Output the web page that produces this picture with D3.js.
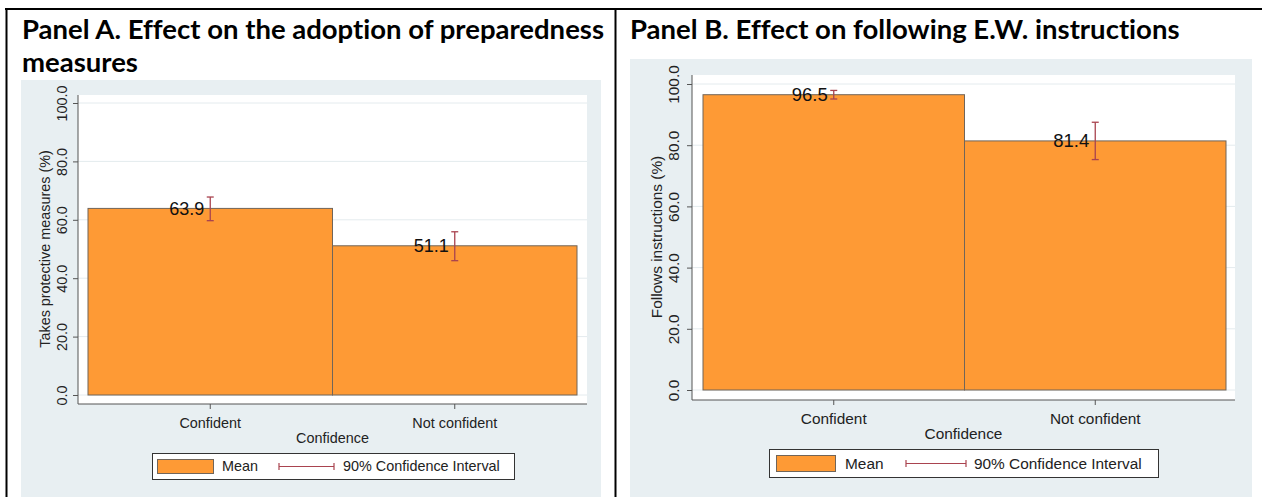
<!DOCTYPE html>
<html>
<head>
<meta charset="utf-8">
<script src="https://cdn.jsdelivr.net/npm/d3@7"></script>
<style>
  html, body { margin: 0; padding: 0; background: #ffffff; }
  svg { display: block; }
  .panel-title { font-variant-ligatures: none; font-feature-settings: "liga" 0, "clig" 0; }
</style>
</head>
<body>
<svg id="chart" width="1262" height="497"></svg>
<script>
// ---- data ----
const categories = ["Confident", "Not confident"];
const yTicks = [0, 20, 40, 60, 80, 100];

// Panel A: takes protective measures (%)
const meansA = [63.9, 51.1];
const ciLowA = [59.7, 46.0];
const ciHighA = [67.8, 55.9];

// Panel B: follows instructions (%)
const meansB = [96.5, 81.4];
const ciLowB = [95.1, 75.3];
const ciHighB = [97.9, 87.5];

const titleA = ["Panel A. Effect on the adoption of preparedness", "measures"];
const titleB = ["Panel B. Effect on following E.W. instructions"];
const yTitleA = "Takes protective measures (%)";
const yTitleB = "Follows instructions (%)";
const xTitle = "Confidence";
const legendMean = "Mean";
const legendCI = "90% Confidence Interval";

// ---- styles ----
const BG = "#e8eff2";
const GRID = "#e4ebee";
const BAR = "#fe9a35";
const BAR_STROKE = "#716559";
const CI = "#a9434f";
const AXIS = "#555555";
const TEXT = "#222222";
const SANS = "'Liberation Sans', Arial, sans-serif";
const TITLE_FONT = "Lato, 'Open Sans', sans-serif";

const svg = d3.select("#chart");

// table frame around the two panels
const frame = svg.append("g").attr("stroke", "#000").attr("stroke-width", 2);
frame.append("line").attr("x1", 5).attr("x2", 1262).attr("y1", 9).attr("y2", 9);
frame.append("line").attr("x1", 6.5).attr("x2", 6.5).attr("y1", 8).attr("y2", 497);
frame.append("line").attr("x1", 615.5).attr("x2", 615.5).attr("y1", 8).attr("y2", 497);

function drawPanel(cfg) {
  const g = svg.append("g");

  // panel heading
  cfg.title.forEach((t, i) => {
    g.append("text")
      .attr("class", "panel-title")
      .attr("x", cfg.titleX)
      .attr("y", cfg.titleY + i * 33)
      .attr("font-family", TITLE_FONT)
      .attr("font-weight", 700)
      .attr("font-size", cfg.titleSize)
      .attr("fill", "#000")
      .text(t);
  });

  // graph background
  g.append("rect")
    .attr("x", cfg.bg.x).attr("y", cfg.bg.y)
    .attr("width", cfg.bg.w).attr("height", cfg.bg.h)
    .attr("fill", BG);

  // plot region
  g.append("rect")
    .attr("x", cfg.plot.left).attr("y", cfg.plot.top)
    .attr("width", cfg.plot.right - cfg.plot.left)
    .attr("height", cfg.plot.axisY - cfg.plot.top)
    .attr("fill", "#fff");

  const y = d3.scaleLinear().domain([0, 100]).range(cfg.yRange);
  const x = d3.scaleBand().domain(categories).range(cfg.xRange).padding(0);

  // horizontal grid
  g.append("g").selectAll("line")
    .data(yTicks)
    .join("line")
    .attr("x1", cfg.plot.left).attr("x2", cfg.plot.right)
    .attr("y1", d => y(d)).attr("y2", d => y(d))
    .attr("stroke", GRID).attr("stroke-width", 1);

  // bars
  g.append("g").selectAll("rect")
    .data(categories)
    .join("rect")
    .attr("x", d => x(d))
    .attr("y", (d, i) => y(cfg.means[i]))
    .attr("width", x.bandwidth())
    .attr("height", (d, i) => y(0) - y(cfg.means[i]))
    .attr("fill", BAR)
    .attr("stroke", BAR_STROKE)
    .attr("stroke-width", 1);

  // confidence intervals
  const ci = g.append("g").attr("stroke", CI).attr("stroke-width", 1.3).attr("fill", "none");
  categories.forEach((c, i) => {
    const cx = x(c) + x.bandwidth() / 2;
    const lo = y(cfg.ciLow[i]), hi = y(cfg.ciHigh[i]);
    ci.append("line").attr("x1", cx).attr("x2", cx).attr("y1", lo).attr("y2", hi);
    ci.append("line").attr("x1", cx - 3.5).attr("x2", cx + 3.5).attr("y1", lo).attr("y2", lo);
    ci.append("line").attr("x1", cx - 3.5).attr("x2", cx + 3.5).attr("y1", hi).attr("y2", hi);
  });

  // mean labels
  g.append("g").selectAll("text")
    .data(categories)
    .join("text")
    .attr("x", d => x(d) + x.bandwidth() / 2 - 6)
    .attr("y", (d, i) => y(cfg.means[i]))
    .attr("dy", "0.35em")
    .attr("text-anchor", "end")
    .attr("font-family", SANS)
    .attr("font-size", cfg.labelSize)
    .attr("fill", "#111")
    .text((d, i) => cfg.means[i].toFixed(1));

  // y axis
  const yAxis = g.append("g")
    .attr("transform", `translate(${cfg.plot.left},0)`)
    .call(d3.axisLeft(y).tickValues(yTicks).tickFormat(d3.format(".1f")).tickSize(5).tickPadding(0));
  yAxis.select(".domain").remove();
  yAxis.selectAll(".tick line").attr("stroke", AXIS);
  yAxis.selectAll(".tick text")
    .attr("font-family", SANS)
    .attr("font-size", cfg.fontSize)
    .attr("fill", TEXT)
    .attr("text-anchor", "middle")
    .attr("x", null).attr("dy", null)
    .attr("transform", `translate(${cfg.tickLabelX - cfg.plot.left},0) rotate(-90)`);
  g.append("line")
    .attr("x1", cfg.plot.left).attr("x2", cfg.plot.left)
    .attr("y1", cfg.plot.top).attr("y2", cfg.plot.axisY)
    .attr("stroke", AXIS).attr("stroke-width", 1);

  // y title
  g.append("text")
    .attr("transform", `translate(${cfg.yTitleX},${(cfg.yRange[0] + cfg.yRange[1]) / 2}) rotate(-90)`)
    .attr("text-anchor", "middle")
    .attr("font-family", SANS)
    .attr("font-size", cfg.fontSize)
    .attr("fill", TEXT)
    .text(cfg.yTitle);

  // x axis
  const xAxis = g.append("g")
    .attr("transform", `translate(0,${cfg.plot.axisY})`)
    .call(d3.axisBottom(x).tickSize(5).tickPadding(0));
  xAxis.select(".domain").remove();
  xAxis.selectAll(".tick line").attr("stroke", AXIS);
  xAxis.selectAll(".tick text")
    .attr("font-family", SANS)
    .attr("font-size", cfg.fontSize)
    .attr("fill", TEXT)
    .attr("dy", null)
    .attr("y", cfg.catLabelY - cfg.plot.axisY);
  g.append("line")
    .attr("x1", cfg.plot.left).attr("x2", cfg.plot.right)
    .attr("y1", cfg.plot.axisY).attr("y2", cfg.plot.axisY)
    .attr("stroke", AXIS).attr("stroke-width", 1);

  // x title
  g.append("text")
    .attr("x", (cfg.plot.left + cfg.plot.right) / 2 + cfg.xTitleShift)
    .attr("y", cfg.xTitleY)
    .attr("text-anchor", "middle")
    .attr("font-family", SANS)
    .attr("font-size", cfg.fontSize)
    .attr("fill", TEXT)
    .text(xTitle);

  // legend
  const L = cfg.legend;
  const lg = g.append("g");
  lg.append("rect")
    .attr("x", L.x + 0.5).attr("y", L.y + 0.5)
    .attr("width", L.w).attr("height", L.h)
    .attr("fill", "#fff").attr("stroke", "#333").attr("stroke-width", 1);
  lg.append("rect")
    .attr("x", L.swX + 0.5).attr("y", L.y + 6.5)
    .attr("width", L.swW).attr("height", L.h - 12)
    .attr("fill", BAR).attr("stroke", BAR_STROKE).attr("stroke-width", 1);
  lg.append("text")
    .attr("x", L.meanX).attr("y", L.y + L.h / 2)
    .attr("dy", "0.36em")
    .attr("font-family", SANS).attr("font-size", cfg.fontSize).attr("fill", TEXT)
    .text(legendMean);
  const cy = L.y + L.h / 2 + 0.5;
  const lci = lg.append("g").attr("stroke", CI).attr("stroke-width", 1.2);
  lci.append("line").attr("x1", L.ciX1).attr("x2", L.ciX2).attr("y1", cy).attr("y2", cy);
  lci.append("line").attr("x1", L.ciX1).attr("x2", L.ciX1).attr("y1", cy - 3.5).attr("y2", cy + 3.5);
  lci.append("line").attr("x1", L.ciX2).attr("x2", L.ciX2).attr("y1", cy - 3.5).attr("y2", cy + 3.5);
  lg.append("text")
    .attr("x", L.ciTextX).attr("y", L.y + L.h / 2)
    .attr("dy", "0.36em")
    .attr("font-family", SANS).attr("font-size", cfg.fontSize).attr("fill", TEXT)
    .text(legendCI);
}

drawPanel({
  title: titleA, titleX: 22, titleY: 39, titleSize: 27.5,
  bg: { x: 21, y: 80, w: 580, h: 420 },
  plot: { left: 78, right: 587, top: 95, axisY: 404 },
  yRange: [395, 103], xRange: [88, 577],
  means: meansA, ciLow: ciLowA, ciHigh: ciHighA,
  fontSize: 14.4, labelSize: 18,
  tickLabelX: 67, yTitleX: 50,
  yTitle: yTitleA,
  catLabelY: 428, xTitleY: 443, xTitleShift: 0,
  legend: { x: 152, y: 453, w: 362, h: 26, swX: 157, swW: 56, meanX: 222, ciX1: 279, ciX2: 334, ciTextX: 343 }
});

drawPanel({
  title: titleB, titleX: 630, titleY: 39, titleSize: 27.5,
  bg: { x: 630, y: 59, w: 622, h: 440 },
  plot: { left: 692, right: 1235, top: 75, axisY: 400 },
  yRange: [390, 84], xRange: [703, 1226],
  means: meansB, ciLow: ciLowB, ciHigh: ciHighB,
  fontSize: 15.4, labelSize: 18.5,
  tickLabelX: 679, yTitleX: 662,
  yTitle: yTitleB,
  catLabelY: 424, xTitleY: 439, xTitleShift: 0,
  legend: { x: 769, y: 449, w: 389, h: 28, swX: 776, swW: 59, meanX: 845, ciX1: 906, ciX2: 966, ciTextX: 974 }
});
</script>
</body>
</html>
